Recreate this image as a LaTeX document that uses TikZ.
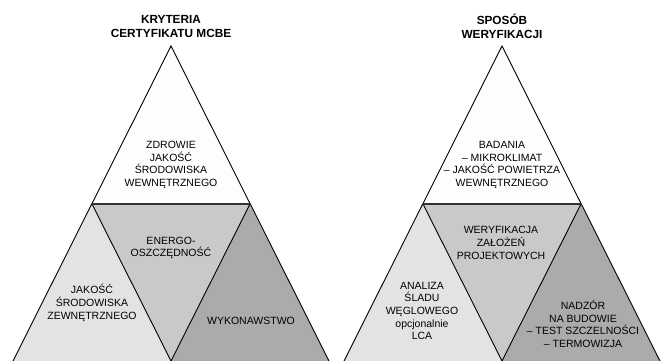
\documentclass[tikz,border=0pt]{standalone}
\usepackage{fontspec}
\setmainfont{Liberation Sans}
\definecolor{cLeft}{HTML}{E3E3E3}
\definecolor{cMid}{HTML}{C9C9C9}
\definecolor{cRight}{HTML}{ABABAB}
\definecolor{cTop}{HTML}{FDFDFD}
\definecolor{cBar}{HTML}{333333}
\tikzset{
  txt/.style={align=center, inner sep=0pt, font=\fontsize{10.5}{12.7}\selectfont},
  ttl/.style={align=center, inner sep=0pt, font=\fontsize{11.8}{14}\selectfont\bfseries},
  edge/.style={draw=black, line width=0.9pt, line join=miter},
  bar/.style={draw=cBar, line width=1.6pt}
}
\begin{document}
\begin{tikzpicture}[x=1pt,y=-1pt]
\useasboundingbox (0,0) rectangle (667,361);
\fill[white] (0,0) rectangle (667,361);
% ---- left triangle coordinates
\coordinate (LA) at (171,46);
\coordinate (LL) at (13,361);
\coordinate (LR) at (329,361);
\coordinate (LML) at (92,204);
\coordinate (LMR) at (250,204);
\coordinate (LMB) at (171,361);
% ---- right triangle coordinates
\coordinate (RA) at (502,46);
\coordinate (RL) at (344,361);
\coordinate (RR) at (660,361);
\coordinate (RML) at (423,204);
\coordinate (RMR) at (581,204);
\coordinate (RMB) at (502,361);
% fills
\foreach \p in {L,R}{
  \fill[cTop] (\p A) -- (\p ML) -- (\p MR) -- cycle;
  \fill[cLeft] (\p ML) -- (\p L) -- (\p MB) -- cycle;
  \fill[cMid] (\p ML) -- (\p MR) -- (\p MB) -- cycle;
  \fill[cRight] (\p MR) -- (\p MB) -- (\p R) -- cycle;
  \draw[edge] (\p L) -- (\p A) -- (\p R);
  \draw[edge] (\p ML) -- (\p MB) -- (\p MR);
  \draw[bar] (\p ML) -- (\p MR);
}
% titles
\node[ttl] (t1) at (171,26) {KRYTERIA\\CERTYFIKATU MCBE};
\node[ttl] (t2) at (502,26) {SPOSÓB\\WERYFIKACJI};
% left texts
\node[txt] (l1) at (171,165) {ZDROWIE\\JAKOŚĆ\\ŚRODOWISKA\\WEWNĘTRZNEGO};
\node[txt] (l2) at (171,248) {ENERGO-\\OSZCZĘDNOŚĆ};
\node[txt] (l3) at (92,303) {JAKOŚĆ\\ŚRODOWISKA\\ZEWNĘTRZNEGO};
\node[txt] (l4) at (251,321) {WYKONAWSTWO};
% right texts
\node[txt] (r1) at (502,165) {BADANIA\\– MIKROKLIMAT\\– JAKOŚĆ POWIETRZA\\WEWNĘTRZNEGO};
\node[txt] (r2) at (501,243) {WERYFIKACJA\\ZAŁOŻEŃ\\PROJEKTOWYCH};
\node[txt] (r3) at (422,311) {ANALIZA\\ŚLADU\\WĘGLOWEGO\\opcjonalnie\\LCA};
\node[txt] (r4) at (583,324) {NADZÓR\\NA BUDOWIE\\– TEST SZCZELNOŚCI\\– TERMOWIZJA};
\end{tikzpicture}
\end{document}
